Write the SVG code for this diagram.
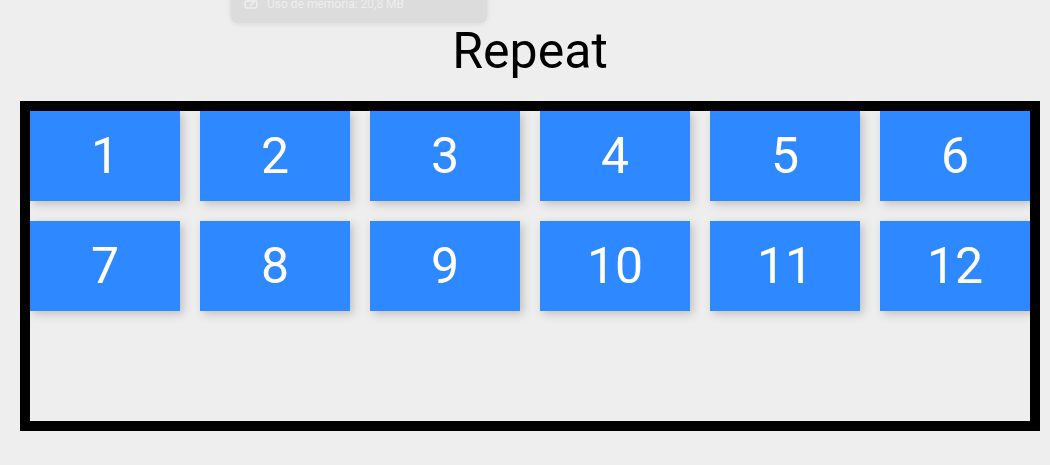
<svg xmlns="http://www.w3.org/2000/svg" width="1050" height="465" viewBox="0 0 1050 465">
<defs>
<filter id="s" x="-20%" y="-30%" width="140%" height="170%"><feDropShadow dx="3" dy="3" stdDeviation="5" flood-color="#000" flood-opacity="0.2"/></filter>
<filter id="c" x="-10%" y="-30%" width="120%" height="170%"><feDropShadow dx="0" dy="1" stdDeviation="2" flood-color="#000" flood-opacity="0.08"/></filter>
<clipPath id="b"><rect x="30" y="111" width="1000" height="310"/></clipPath>
</defs>
<style>
text{font-family:Roboto,"Liberation Sans",sans-serif}
.n rect{fill:#2f88ff;filter:url(#s)}
.n text{fill:#fff;font-size:50px;text-anchor:middle}
</style>
<rect width="1050" height="465" fill="#eeeeee"/>
<g id="toast">
<rect x="230.500" y="-40" width="257" height="63.500" rx="8" fill="#dcdcdc" filter="url(#c)"/>
<path d="M246 8a6 6 0 0 1-1-3V2.500A1.500 1.500 0 0 1 246.500 1H255.500A1.500 1.500 0 0 1 257 2.500V5a6 6 0 0 1-1 3z M250 6l4-4" fill="none" stroke="#eeeeee" stroke-width="1.500"/>
<text x="267" y="8" font-size="12" fill="#eeeeee">Uso de memoria: 20,8 MB</text>
</g>
<text id="title" x="530" y="68" font-size="50" text-anchor="middle" fill="#000">Repeat</text>
<g id="grid" clip-path="url(#b)">
<g id="n1" class="n"><rect x="30" y="111" width="150" height="90"/><text x="105" y="173">1</text></g>
<g id="n2" class="n"><rect x="200" y="111" width="150" height="90"/><text x="275" y="173">2</text></g>
<g id="n3" class="n"><rect x="370" y="111" width="150" height="90"/><text x="445" y="173">3</text></g>
<g id="n4" class="n"><rect x="540" y="111" width="150" height="90"/><text x="615" y="173">4</text></g>
<g id="n5" class="n"><rect x="710" y="111" width="150" height="90"/><text x="785" y="173">5</text></g>
<g id="n6" class="n"><rect x="880" y="111" width="150" height="90"/><text x="955" y="173">6</text></g>
<g id="n7" class="n"><rect x="30" y="221" width="150" height="90"/><text x="105" y="283">7</text></g>
<g id="n8" class="n"><rect x="200" y="221" width="150" height="90"/><text x="275" y="283">8</text></g>
<g id="n9" class="n"><rect x="370" y="221" width="150" height="90"/><text x="445" y="283">9</text></g>
<g id="n10" class="n"><rect x="540" y="221" width="150" height="90"/><text x="615" y="283">10</text></g>
<g id="n11" class="n"><rect x="710" y="221" width="150" height="90"/><text x="785" y="283">11</text></g>
<g id="n12" class="n"><rect x="880" y="221" width="150" height="90"/><text x="955" y="283">12</text></g>
</g>
<rect id="frame" x="25" y="106" width="1010" height="320" fill="none" stroke="#000" stroke-width="10"/>
</svg>
